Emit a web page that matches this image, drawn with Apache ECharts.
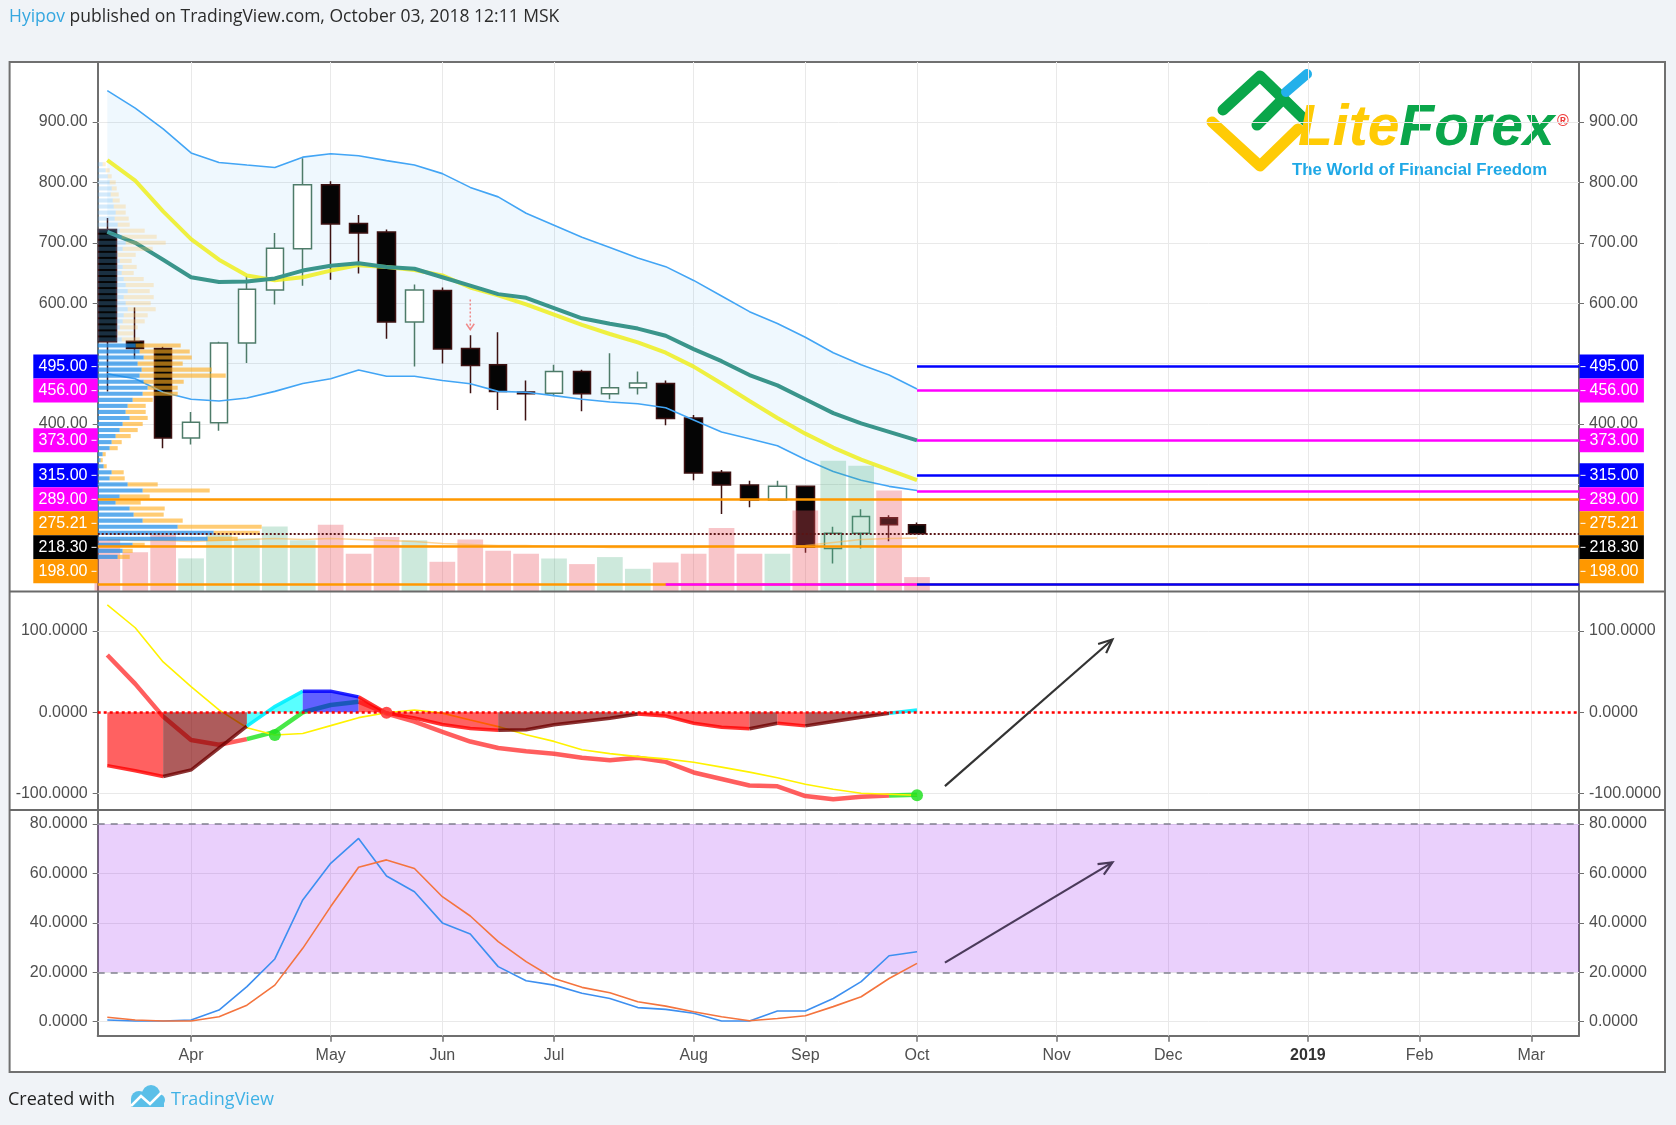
<!DOCTYPE html>
<html><head><meta charset="utf-8">
<script src="https://cdn.jsdelivr.net/npm/echarts@6/dist/echarts.min.js"></script>
<style>html,body{margin:0;padding:0;background:#f0f3f7;}#c{width:1676px;height:1125px;}</style>
</head><body><div id="c"></div>
<script>
// ---------------- DATA ----------------
const weekStarts = ['2018-03-12','2018-03-19','2018-03-26','2018-04-02','2018-04-09','2018-04-16','2018-04-23','2018-04-30','2018-05-07','2018-05-14','2018-05-21','2018-05-28','2018-06-04','2018-06-11','2018-06-18','2018-06-25','2018-07-02','2018-07-09','2018-07-16','2018-07-23','2018-07-30','2018-08-06','2018-08-13','2018-08-20','2018-08-27','2018-09-03','2018-09-10','2018-09-17','2018-09-24','2018-10-01'];
const openP  = [722,537,525,377,402,534,622,690,796,732,718,569,621,525,498,453,451,487,450,460,467,410,320,299,274,297,194,219,245,233];
const closeP = [536,525,377,403,534,623,691,796,731,716,569,622,524,497,454,450,487,450,460,468,409,319,299,274,297,196,219,247,233,218.30];
const lowP   = [454,508,360,366,389,501,598,629,639,649,541,495,500,451,423,406,446,421,441,449,398,307,251,262,273,187,169,194,206,217];
const highP  = [741,593,528,420,536,645,716,840,802,746,722,631,626,547,552,472,498,490,517,487,472,415,324,306,306,298,230,259,249,237];
const volume = [524,393,565,331,565,531,651,513,668,377,544,513,297,520,407,377,330,274,344,227,290,377,634,377,377,810,1307,1257,1010,144];
const volumeMA = [520,510,510,500,510,520,530,520,530,520,510,500,480,470,460,460,450,450,440,440,440,440,450,450,450,460,490,520,530,534];
const bbUpper = [952,923,888.6,848.7,833,828.7,824.7,841.8,847.5,844,836,828.7,814.5,791.7,776,749,729,709,692,675,660.5,637.7,612,586,566.5,543.7,518,498,481,458];
const bbLower = [483,475,452.5,441,438,443,454,467,475,489.5,479,479,472,466.7,454,452.5,447,441,436.5,433.6,426.8,406.8,386.9,375.5,364,341.3,321.3,307,296.8,290];
const maYellow = [837,803,752,706,672,646,638,643,654,663,660,655,646,626,613,598,581,564,549,535,518,495,467,438,410,384,361,341,324,307];
const maTeal   = [718,700,672,643,635,636,641,654,662,666,660,657,643,629,615,609,592,575,566,558,546,524,504,481,464,441,418,401,387,373];
// oscillator panel
const oscMain   = [70.5,35,-5.3,-34,-40,-33,-24,0,9,13,-1.5,-11.5,-24,-36,-44,-48,-51,-56,-59,-56,-61,-74,-82,-90,-91,-103,-107,-104,-102.4,-101.4];
const oscSignal = [132,104,62,31.6,2.9,-19,-28,-26,-16.4,-6.6,-0.5,2.9,-1,-9.4,-17.6,-27.6,-35.8,-46,-50.8,-54.5,-57.3,-61.4,-67.5,-73.6,-80.5,-88.6,-94.7,-99.6,-100.8,-102];
const oscHist   = [-65.6,-72,-79,-71,-44,-17,7,26,26,19,-1,-7,-15,-20,-22,-21.5,-15.4,-11.4,-7.3,-2,-4.5,-13.4,-18.3,-20.3,-13.4,-16.7,-11.4,-6,-1.2,2.8];
const crossIdx  = [6,10,29];
// stochastic
const stochK = [0.7,0.3,0.3,0.7,4.7,14.2,25.4,49.3,64.1,74.2,59,52.6,40,35.5,22.3,16.6,14.8,11.5,9.4,5.7,5,3.4,0.3,0.3,4.3,4.3,9.4,16.2,26.7,28.3];
const stochD = [1.8,0.7,0.3,0.3,2,6.7,14.8,29.7,46.6,62.5,65.5,62,50.6,42.8,32.4,24.3,17.5,13.9,11.7,8.1,6.3,4,2,0.4,1.3,2.4,6.1,10.1,17.5,23.6];
// axis ticks
const monthTickIdx = [3,8,12,16,21,25,29,34,38,43,47,51];
const monthTickLabels = ['Apr','May','Jun','Jul','Aug','Sep','Oct','Nov','Dec','2019','Feb','Mar'];
const priceTickLabels = [400,600,700,800,900];
const priceGridLines = [200,300,400,500,600,700,800,900];
const oscTicks = [-100,0,100];
const stochTicks = [0,20,40,60,80];
const stochBand = [20,80];
// horizontal levels
const rayLevels = [495,456,373,315,289,135];
const fullLevels = [275.21,198,135];
const lastPrice = 218.30;
const midLevel = 135;
const labelLevels = [495,456,373,315,289,275.21,218.30,198];
// volume profile (visible range)
const vpPrice = [830,820,810,800,790,780,770,760,750,740,730,720,710,700,690,680,670,660,650,640,630,620,610,600,590,580,570,560,550,540,530,520,510,500,490,480,470,460,450,440,430,420,410,400,390,380,370,360,350,340,330,320,310,300,290,280,270,260,250,240,230,220,210,200,190,180];
const vpUp   = [5,8,10,12,14,13,15,16,18,17,20,22,24,28,25,20,22,25,24,26,28,30,26,28,30,26,25,22,20,24,38,42,46,40,44,42,46,50,45,35,30,28,32,25,22,18,14,12,5,3,6,14,12,30,45,22,18,32,36,45,80,116,110,35,25,20];
const vpDown = [3,4,4,6,5,8,7,12,10,14,12,25,35,40,30,18,12,14,12,20,28,22,30,25,28,24,22,18,16,18,45,50,48,45,70,86,40,30,35,20,18,20,18,20,18,15,10,8,3,2,3,12,15,30,67,30,25,35,30,40,84,46,30,12,10,12];
// annotations (drawn arrows, in axis units)
const oscArrow = [30,-90.9,36,89.5];
const stochArrow = [30,23.9,36,64.5];
const signalArrow = [13,606,13,556];

// ---------------- LAYOUT / STYLE ----------------
const X_MIN = -0.344, X_MAX = 52.71;
const PRICE_MIN = 122.7, PRICE_MAX = 999.3;
const OSC_MIN = -120.2, OSC_MAX = 148.6;
const ST_MIN = -5.67, ST_MAX = 85.7;
const VOL_MAX = 5295, VP_MAX = 1481.3, VP_STEP = 10, VA_HIGH = 535;
const LAST_IDX = openP.length - 1;
const FONT = '"Liberation Sans", Arial, sans-serif';
const AXIS_C = '#6f6f6f', LBL_C = '#4f4f4f', GRID_C = '#e9e9e9';
const BLUE = '#0000ff', MAG = '#ff00ff', ORG = '#ff9800';
const GL = 97.7, GW = 1481.3;

const chart = echarts.init(document.getElementById('c'));

function xAx(gi, show) {
  const a = {type:'value', gridIndex:gi, min:X_MIN, max:X_MAX, show:show, splitLine:{show:false}};
  if (show) {
    a.axisLine = {show:true, onZero:false, lineStyle:{color:AXIS_C, width:2}};
    a.axisTick = {show:true, customValues:monthTickIdx, length:6, lineStyle:{color:AXIS_C, width:1.5}};
    a.axisLabel = {customValues:monthTickIdx, margin:12, fontSize:16, color:LBL_C, fontFamily:FONT,
      formatter:(v)=>{const t = monthTickLabels[monthTickIdx.indexOf(Math.round(v))]; return t==='2019' ? '{b|2019}' : t;},
      rich:{b:{fontWeight:'bold', fontSize:16, color:'#333', fontFamily:FONT}}};
  }
  return a;
}
function yAx(gi, pos, min, max, ticks, dec) {
  return {type:'value', gridIndex:gi, position:pos, min:min, max:max, splitLine:{show:false},
    axisLine:{show:true, onZero:false, lineStyle:{color:AXIS_C, width:2}},
    axisTick:{show:true, customValues:ticks, length:5, lineStyle:{color:AXIS_C}},
    axisLabel:{customValues:ticks, formatter:(v)=>v.toFixed(dec), fontSize:16, color:LBL_C, fontFamily:FONT, margin:10}};
}
function gridLines(xi, yi, hvals) {
  return {type:'line', xAxisIndex:xi, yAxisIndex:yi, data:[], silent:true, z:1,
    markLine:{silent:true, z:1, symbol:['none','none'], animation:false, label:{show:false},
      lineStyle:{color:GRID_C, width:1, type:'solid'},
      data:[...hvals.map(v=>({yAxis:v})), ...monthTickIdx.map(v=>({xAxis:v}))]}};
}
function colorRuns(n, colorOf) {
  const runs = []; let cur = null;
  for (let i = 1; i < n; i++) { const c = colorOf(i); if (!cur || cur.c !== c) { cur = {c:c, idx:[i-1]}; runs.push(cur); } cur.idx.push(i); }
  return runs;
}
function arrowSeries(xi, yi, arr, color) {
  return {type:'custom', xAxisIndex:xi, yAxisIndex:yi, silent:true, z:20, data:[arr], encode:{x:[0,2], y:[1,3]},
    renderItem:(p, api)=>{
      const a = api.coord([api.value(0), api.value(1)]), b = api.coord([api.value(2), api.value(3)]);
      const ang = Math.atan2(b[1]-a[1], b[0]-a[0]), hl = 15, sp = 0.42;
      const h1 = [b[0]-hl*Math.cos(ang-sp), b[1]-hl*Math.sin(ang-sp)], h2 = [b[0]-hl*Math.cos(ang+sp), b[1]-hl*Math.sin(ang+sp)];
      return {type:'group', children:[
        {type:'line', shape:{x1:a[0],y1:a[1],x2:b[0],y2:b[1]}, style:{stroke:color, lineWidth:2.2}},
        {type:'polyline', shape:{points:[h1,b,h2]}, style:{stroke:color, lineWidth:2.2, fill:null}}]};
    }};
}

const idx = openP.map((_,i)=>i);
const HIST_FILL = {red:'rgba(255,0,0,0.62)', brown:'rgba(128,0,0,0.64)', cyan:'rgba(0,255,255,0.65)', blue:'rgba(0,0,255,0.62)'};
const HIST_LINE = {red:'rgba(255,0,0,0.8)', brown:'rgba(110,0,0,0.8)', cyan:'rgba(0,240,255,0.9)', blue:'rgba(0,0,255,0.85)'};
function histKind(i){ const v = oscHist[i], pv = oscHist[i-1]; return v >= 0 ? (v > pv ? 'cyan' : 'blue') : (v < pv ? 'red' : 'brown'); }

const option = {
  animation:false,
  textStyle:{fontFamily:FONT},
  grid:[
    {left:GL, top:62, width:GW, height:529.5},
    {left:GL, top:591.5, width:GW, height:218.5},
    {left:GL, top:810, width:GW, height:225.7}
  ],
  xAxis:[ xAx(0,false), xAx(1,false), xAx(2,true), {type:'value', gridIndex:0, min:0, max:VP_MAX, show:false} ],
  yAxis:[
    yAx(0,'left',PRICE_MIN,PRICE_MAX,priceTickLabels,2),
    yAx(0,'right',PRICE_MIN,PRICE_MAX,priceTickLabels,2),
    {type:'value', gridIndex:0, min:0, max:VOL_MAX, show:false},
    yAx(1,'left',OSC_MIN,OSC_MAX,oscTicks,4),
    yAx(1,'right',OSC_MIN,OSC_MAX,oscTicks,4),
    yAx(2,'left',ST_MIN,ST_MAX,stochTicks,4),
    yAx(2,'right',ST_MIN,ST_MAX,stochTicks,4)
  ],
  series:[
    // ---- price panel ----
    gridLines(0,0,priceGridLines),
    {type:'custom', xAxisIndex:0, yAxisIndex:0, silent:true, z:2, data:idx.map(i=>[i,bbUpper[i]]),
      renderItem:(p, api)=>{
        if (p.dataIndex !== 0) return null;
        const pts = [];
        for (let i = 0; i < bbUpper.length; i++) pts.push(api.coord([i, bbUpper[i]]));
        for (let i = bbLower.length-1; i >= 0; i--) pts.push(api.coord([i, bbLower[i]]));
        return {type:'polygon', shape:{points:pts}, style:{fill:'rgba(33,150,243,0.07)'}};
      }},
    {type:'candlestick', xAxisIndex:0, yAxisIndex:0, z:3, barWidth:18, layout:'horizontal',
      data:idx.map(i=>[i,openP[i],closeP[i],lowP[i],highP[i]]), encode:{x:0, y:[1,2,3,4]},
      itemStyle:{color:'#ffffff', color0:'#050505', borderColor:'#4e7b69', borderColor0:'#3d1212', borderWidth:1.5}},
    {type:'line', name:'BB upper', xAxisIndex:0, yAxisIndex:0, z:4, showSymbol:false, data:idx.map(i=>[i,bbUpper[i]]), lineStyle:{color:'#42a5f5', width:1.6}},
    {type:'line', name:'BB lower', xAxisIndex:0, yAxisIndex:0, z:4, showSymbol:false, data:idx.map(i=>[i,bbLower[i]]), lineStyle:{color:'#42a5f5', width:1.6}},
    {type:'line', name:'MA fast', xAxisIndex:0, yAxisIndex:0, z:4, showSymbol:false, data:idx.map(i=>[i,maYellow[i]]), lineStyle:{color:'rgba(238,238,30,0.85)', width:4}},
    {type:'line', name:'MA slow', xAxisIndex:0, yAxisIndex:0, z:4, showSymbol:false, data:idx.map(i=>[i,maTeal[i]]), lineStyle:{color:'#3a958b', width:4}},
    {type:'custom', xAxisIndex:0, yAxisIndex:2, silent:true, z:5, data:idx.map(i=>[i,volume[i]]),
      renderItem:(p, api)=>{
        const i = api.value(0), v = api.value(1);
        const a = api.coord([i-0.46, 0]), b = api.coord([i+0.46, v]);
        const up = closeP[i] >= openP[i];
        return {type:'rect', shape:{x:a[0], y:b[1], width:b[0]-a[0], height:a[1]-b[1]}, style:{fill: up ? 'rgba(60,170,120,0.26)' : 'rgba(235,80,90,0.33)'}};
      }},
    {type:'line', name:'Vol MA', xAxisIndex:0, yAxisIndex:2, z:5, showSymbol:false, data:idx.map(i=>[i,volumeMA[i]]), lineStyle:{color:'rgba(255,180,70,0.55)', width:1.5}},
    {type:'custom', xAxisIndex:3, yAxisIndex:0, silent:true, z:6, data:vpPrice.map((pr,i)=>[vpUp[i]+vpDown[i], pr]),
      renderItem:(p, api)=>{
        const i = p.dataIndex, pr = vpPrice[i];
        const h = Math.abs(api.size([0, VP_STEP])[1]) * 0.68;
        const a = api.coord([0, pr]), b = api.coord([vpUp[i], pr]), c = api.coord([vpUp[i]+vpDown[i], pr]);
        const va = pr <= VA_HIGH;
        return {type:'group', children:[
          {type:'rect', shape:{x:a[0], y:a[1]-h/2, width:b[0]-a[0], height:h}, style:{fill: va ? 'rgba(30,140,230,0.72)' : 'rgba(90,175,240,0.26)'}},
          {type:'rect', shape:{x:b[0], y:a[1]-h/2, width:c[0]-b[0], height:h}, style:{fill: va ? 'rgba(255,172,30,0.62)' : 'rgba(255,195,90,0.28)'}}]};
      }},
    {type:'line', xAxisIndex:0, yAxisIndex:0, data:[], silent:true, z:10,
      markLine:{silent:true, z:10, symbol:['none','none'], animation:false, label:{show:false}, data:[
        ...fullLevels.map(v=>({yAxis:v, lineStyle:{color:ORG, width:2.5, type:'solid'}})),
        [{coord:[20, midLevel], lineStyle:{color:MAG, width:2.5, type:'solid'}}, {coord:[LAST_IDX, midLevel]}],
        ...rayLevels.map((v,k)=>[{coord:[LAST_IDX, v], lineStyle:{color:(k===0||k===3||k===5)?BLUE:MAG, width:2.5, type:'solid'}}, {coord:[X_MAX, v]}]),
        {yAxis:lastPrice, lineStyle:{color:'#5a1414', width:2, type:'dotted'}}
      ]}},
    {type:'custom', xAxisIndex:0, yAxisIndex:0, silent:true, z:9, data:[signalArrow], encode:{x:[0,2], y:[1,3]},
      renderItem:(p, api)=>{
        const a = api.coord([api.value(0), api.value(1)]), b = api.coord([api.value(2), api.value(3)]);
        return {type:'group', children:[
          {type:'line', shape:{x1:a[0],y1:a[1],x2:b[0],y2:b[1]}, style:{stroke:'#f08a8a', lineWidth:1.5, lineDash:[2,2]}},
          {type:'polyline', shape:{points:[[b[0]-4,b[1]-6],[b[0],b[1]],[b[0]+4,b[1]-6]]}, style:{stroke:'#f08a8a', lineWidth:1.5, fill:null}}]};
      }},
    // ---- oscillator panel ----
    gridLines(1,3,[-100,100]),
    {type:'custom', xAxisIndex:1, yAxisIndex:3, silent:true, z:3, data:idx.map(i=>[i,oscMain[i]]),
      renderItem:(p, api)=>{
        if (p.dataIndex !== 0) return null;
        const runs = colorRuns(oscMain.length, i => oscMain[i] >= oscSignal[i] ? 'rgba(20,225,20,0.78)' : 'rgba(255,25,25,0.7)');
        return {type:'group', children: runs.map(r=>({type:'polyline', shape:{points:r.idx.map(i=>api.coord([i, oscMain[i]]))}, style:{stroke:r.c, lineWidth:4.5, fill:null, lineJoin:'round'}}))};
      }},
    {type:'line', name:'signal', xAxisIndex:1, yAxisIndex:3, z:4, showSymbol:false, data:idx.map(i=>[i,oscSignal[i]]), lineStyle:{color:'#fff200', width:1.6}},
    {type:'custom', xAxisIndex:1, yAxisIndex:3, silent:true, z:5, data:idx.map(i=>[i,oscHist[i]]),
      renderItem:(p, api)=>{
        if (p.dataIndex !== 0) return null;
        const runs = colorRuns(oscHist.length, histKind);
        const ch = [];
        runs.forEach(r=>{
          const top = r.idx.map(i=>api.coord([i, oscHist[i]]));
          const base = r.idx.slice().reverse().map(i=>api.coord([i, 0]));
          ch.push({type:'polygon', shape:{points:top.concat(base)}, style:{fill:HIST_FILL[r.c]}});
        });
        runs.forEach(r=>{
          ch.push({type:'polyline', shape:{points:r.idx.map(i=>api.coord([i, oscHist[i]]))}, style:{stroke:HIST_LINE[r.c], lineWidth:3.5, fill:null}});
        });
        return {type:'group', children:ch};
      }},
    {type:'line', xAxisIndex:1, yAxisIndex:3, data:[], silent:true, z:7,
      markLine:{silent:true, z:7, symbol:['none','none'], animation:false, label:{show:false},
        data:[{yAxis:0, lineStyle:{color:'#ff0000', width:2.5, type:[3,3]}}]}},
    {type:'scatter', xAxisIndex:1, yAxisIndex:3, z:8, symbolSize:12, silent:true,
      data:crossIdx.map(i=>({value:[i, oscSignal[i]], itemStyle:{color: oscMain[i] >= oscSignal[i] ? '#22e022' : '#ff3030', opacity:0.85}}))},
    arrowSeries(1,3,oscArrow,'#333333'),
    // ---- stochastic panel ----
    {type:'line', xAxisIndex:2, yAxisIndex:5, data:[], silent:true, z:1,
      markLine:{silent:true, z:1, symbol:['none','none'], animation:false, label:{show:false}, lineStyle:{color:GRID_C, width:1, type:'solid'},
        data:[...stochTicks.map(v=>({yAxis:v})), ...monthTickIdx.map(v=>({xAxis:v}))]},
      markArea:{silent:true, z:2, itemStyle:{color:'rgba(150,20,240,0.2)'}, data:[[{yAxis:stochBand[0]},{yAxis:stochBand[1]}]]}},
    {type:'line', xAxisIndex:2, yAxisIndex:5, data:[], silent:true, z:3,
      markLine:{silent:true, z:3, symbol:['none','none'], animation:false, label:{show:false}, lineStyle:{color:'#80808e', width:1.5, type:[7,6]},
        data:stochBand.map(v=>({yAxis:v}))}},
    {type:'line', name:'%K', xAxisIndex:2, yAxisIndex:5, z:4, showSymbol:false, data:idx.map(i=>[i,stochK[i]]), lineStyle:{color:'#3d8ff0', width:1.6}},
    {type:'line', name:'%D', xAxisIndex:2, yAxisIndex:5, z:4, showSymbol:false, data:idx.map(i=>[i,stochD[i]]), lineStyle:{color:'#f4743e', width:1.6}},
    arrowSeries(2,5,stochArrow,'#4a3a5a')
  ]
};
chart.setOption(option);

// ---------------- DECORATION + LEVEL LABELS ----------------
const g = [];
g.push({type:'rect', z:-10, silent:true, shape:{x:9.6, y:62, width:1655.4, height:1010}, style:{fill:'#ffffff', stroke:'#707070', lineWidth:2}});
g.push({type:'line', z:50, silent:true, shape:{x1:9.6, y1:591.5, x2:1665, y2:591.5}, style:{stroke:'#6a6a6a', lineWidth:2}});
g.push({type:'line', z:50, silent:true, shape:{x1:9.6, y1:810, x2:1665, y2:810}, style:{stroke:'#6a6a6a', lineWidth:2}});
// header
g.push({type:'text', z:50, x:9, y:17, style:{text:'{a|Hyipov} published on TradingView.com, October 03, 2018 12:11 MSK', fill:'#2b2b2b', font:'17.5px "Open Sans", sans-serif', verticalAlign:'middle',
  rich:{a:{fill:'#35a7e0', font:'17.5px "Open Sans", sans-serif'}}}});
// footer
g.push({type:'text', z:50, x:8, y:1100, style:{text:'Created with', fill:'#1f1f1f', font:'18px "Open Sans", sans-serif', verticalAlign:'middle'}});
g.push({type:'group', z:50, silent:true, children:[
  {type:'circle', shape:{cx:139, cy:1099, r:8}, style:{fill:'#5bbfe8'}},
  {type:'circle', shape:{cx:151, cy:1094, r:9}, style:{fill:'#5bbfe8'}},
  {type:'circle', shape:{cx:159, cy:1100, r:6}, style:{fill:'#5bbfe8'}},
  {type:'rect', shape:{x:131, y:1099, width:33, height:8}, style:{fill:'#5bbfe8'}},
  {type:'polyline', shape:{points:[[131,1106],[141,1096],[150,1104],[161,1093]]}, style:{stroke:'#ffffff', lineWidth:2.5, fill:null}}
]});
g.push({type:'text', z:50, x:171, y:1100, style:{text:'TradingView', fill:'#3fb1e5', font:'18px "Open Sans", sans-serif', verticalAlign:'middle'}});
// LiteForex watermark
g.push({type:'group', z:60, silent:true, children:[
  {type:'polyline', shape:{points:[[1212,122],[1260,166],[1298,129]]}, style:{stroke:'#ffcb05', lineWidth:11, lineCap:'round', lineJoin:'round', fill:null}},
  {type:'polyline', shape:{points:[[1223,110],[1260,76],[1306,121]]}, style:{stroke:'#0aa64a', lineWidth:11, lineCap:'round', lineJoin:'round', fill:null}},
  {type:'polyline', shape:{points:[[1257,125],[1283,99]]}, style:{stroke:'#0aa64a', lineWidth:11, lineCap:'round', fill:null}},
  {type:'polyline', shape:{points:[[1286,92],[1307,74]]}, style:{stroke:'#23b0ea', lineWidth:10, lineCap:'round', fill:null}},
  {type:'text', x:1298, y:158, style:{text:'{l|Lite}{f|Forex}', verticalAlign:'bottom', font:'italic bold 57px "Liberation Sans", Arial, sans-serif',
     rich:{l:{fill:'#ffcb05', font:'italic bold 57px "Liberation Sans", Arial, sans-serif'}, f:{fill:'#0aa64a', font:'italic bold 57px "Liberation Sans", Arial, sans-serif'}}}},
  {type:'text', x:1557, y:114, style:{text:'®', fill:'#ef3b3b', font:'bold 16px "Liberation Sans", Arial, sans-serif'}},
  {type:'text', x:1292, y:170, style:{text:'The World of Financial Freedom', fill:'#1ea8e6', font:'bold 16.8px "Liberation Sans", Arial, sans-serif', verticalAlign:'middle'}}
]});
// colored price labels with overlap avoidance (like the price scale does)
const LABEL_H = 24;
const labColor = v => v === lastPrice ? '#000000' : (v === 495 || v === 315) ? BLUE : (v === 275.21 || v === 198) ? ORG : MAG;
const items = labelLevels.map(v => ({v:v, y:chart.convertToPixel({yAxisIndex:0}, v)})).sort((a,b)=>a.y-b.y);
let prev = -1e9;
items.forEach(it => { it.y = Math.max(it.y, prev + LABEL_H); prev = it.y; });
items.forEach(it => {
  const c = labColor(it.v), t = it.v.toFixed(2);
  g.push({type:'rect', z:100, silent:true, shape:{x:33.3, y:it.y-LABEL_H/2, width:64.4, height:LABEL_H}, style:{fill:c}});
  g.push({type:'line', z:101, silent:true, shape:{x1:91.5, y1:it.y, x2:96.5, y2:it.y}, style:{stroke:'#ffffff', lineWidth:1}});
  g.push({type:'text', z:101, silent:true, x:87.5, y:it.y, style:{text:t, fill:'#ffffff', font:'16px "Liberation Sans", Arial, sans-serif', align:'right', verticalAlign:'middle'}});
  g.push({type:'rect', z:100, silent:true, shape:{x:1579.5, y:it.y-LABEL_H/2, width:64.4, height:LABEL_H}, style:{fill:c}});
  g.push({type:'line', z:101, silent:true, shape:{x1:1580.5, y1:it.y, x2:1585.5, y2:it.y}, style:{stroke:'#ffffff', lineWidth:1}});
  g.push({type:'text', z:101, silent:true, x:1589.5, y:it.y, style:{text:t, fill:'#ffffff', font:'16px "Liberation Sans", Arial, sans-serif', align:'left', verticalAlign:'middle'}});
});
chart.setOption({graphic:{elements:g}});
</script>
</body></html>
